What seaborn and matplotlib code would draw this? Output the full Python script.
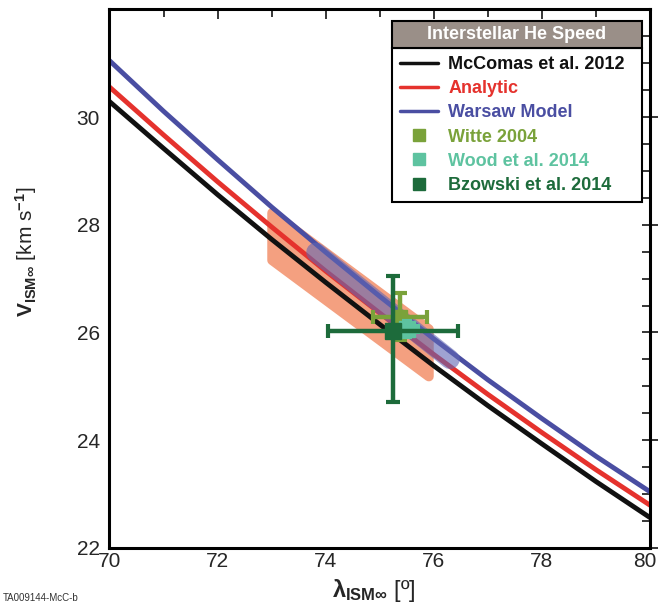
"""
Interstellar He speed vs. inflow longitude
"""

import numpy as np
import pandas as pd
import matplotlib
matplotlib.use('Agg')
import matplotlib.pyplot as plt
import matplotlib.transforms as mtransforms
import seaborn as sns
from matplotlib import font_manager
from matplotlib.lines import Line2D
from matplotlib.patches import Rectangle

# ---- data ----
lam = [70, 71, 72, 73, 74, 75, 76, 77, 78, 79, 80]
v_mccomas = [30.29, 29.42, 28.56, 27.73, 26.93, 26.15, 25.38, 24.64, 23.93, 23.23, 22.56]
v_analytic = [30.56, 29.67, 28.80, 27.96, 27.14, 26.36, 25.59, 24.85, 24.14, 23.45, 22.79]
v_warsaw = [31.05, 30.11, 29.21, 28.33, 27.49, 26.67, 25.88, 25.12, 24.40, 23.70, 23.04]

# IBEX parameter tube region (orange) and Warsaw model uncertainty (purple)
tube_lam = [73.0, 75.9]
tube_v = [27.79, 25.63]
tube_dv = 0.44
warsaw_lam = [73.82, 76.3]
warsaw_v = [27.49, 25.50]

# observations: lambda, V, lambda err, V err (low, high)
obs_names = ['Witte 2004', 'Wood et al. 2014', 'Bzowski et al. 2014']
obs_lam = [75.38, 75.50, 75.24]
obs_v = [26.29, 26.06, 26.03]
obs_lam_err = [0.5, 0.2, 1.2]
obs_v_err_lo = [0.44, 0.15, 1.32]
obs_v_err_hi = [0.44, 0.15, 1.02]
obs_colors = ['#7aa23a', '#5ec3a0', '#1d6b3b']

line_names = ['McComas et al. 2012', 'Analytic', 'Warsaw Model']
line_colors = ['#111111', '#e5322d', '#4a4ea2']

# ---- fonts ----
installed = {f.name for f in font_manager.fontManager.ttflist}
narrow = 'Liberation Sans Narrow' if 'Liberation Sans Narrow' in installed else 'Liberation Sans'

sns.set_style('white')
plt.rcParams['font.family'] = [narrow, 'DejaVu Sans']
plt.rcParams['mathtext.fontset'] = 'custom'
plt.rcParams['mathtext.rm'] = narrow
plt.rcParams['mathtext.bf'] = narrow + ':bold'
plt.rcParams['mathtext.it'] = narrow + ':italic'

df = pd.DataFrame({'lam': lam, 'McComas et al. 2012': v_mccomas,
                   'Analytic': v_analytic, 'Warsaw Model': v_warsaw})
long_df = df.melt(id_vars='lam', var_name='model', value_name='v')

fig = plt.figure(figsize=(6.58, 6.05), dpi=100)
ax = fig.add_axes([0.1664, 0.0947, 0.8214, 0.8896])

# orange tube with rounded corners
tl = np.array(tube_lam)
tv = np.array(tube_v)
ax.fill_between(tl, tv - tube_dv, tv + tube_dv, facecolor='#f4a080',
                edgecolor='#f4a080', linewidth=7, joinstyle='round', zorder=1)

sns.lineplot(data=long_df, x='lam', y='v', hue='model', hue_order=line_names,
             palette=line_colors, linewidth=3.5, legend=False, ax=ax, zorder=2)

# purple Warsaw band
ax.plot(warsaw_lam, warsaw_v, color='#6066b4', alpha=0.6, linewidth=14,
        solid_capstyle='round', zorder=3)

# observations (Bzowski first so others sit on top)
styles = {0: dict(ms=10, elinewidth=3.2, capsize=5),
          1: dict(ms=11, elinewidth=6, capsize=3.5),
          2: dict(ms=11, elinewidth=3.2, capsize=5)}
for i in [2, 0, 1]:
    ax.errorbar(obs_lam[i], obs_v[i], xerr=obs_lam_err[i],
                yerr=[[obs_v_err_lo[i]], [obs_v_err_hi[i]]],
                fmt='s', color=obs_colors[i], mec=obs_colors[i], capthick=3,
                zorder=4 + i, **styles[i])

ax.set_xlim(70, 80)
ax.set_ylim(22, 32)
ax.set_xticks(np.arange(70, 81, 2))
ax.set_xticks(np.arange(70, 81, 1), minor=True)
ax.set_yticks(np.arange(22, 31, 2))
ax.set_yticks(np.arange(22, 32.1, 0.5), minor=True)
ax.tick_params(axis='x', which='major', direction='in', length=7, width=1.3,
               labelsize=15, pad=3, top=True)
ax.tick_params(axis='x', which='minor', direction='in', length=6, width=1.3, top=True)
ax.tick_params(axis='y', which='major', direction='inout', length=12, width=1.3,
               labelsize=15, pad=1, right=True)
ax.tick_params(axis='y', which='minor', direction='in', length=6, width=1.3, right=True)
for s in ax.spines.values():
    s.set_linewidth(2.2)
    s.set_color('black')

# keep the last x label inside the figure
last = ax.get_xticklabels()[-1]
last.set_transform(last.get_transform() + mtransforms.ScaledTranslation(-5 / 100, 0, fig.dpi_scale_trans))

ax.set_xlabel(r'$\mathbf{\lambda}_{\mathbf{ISM\infty}}$ [º]', fontsize=17)
ax.set_ylabel(r'$\mathbf{V}_{\mathbf{ISM\infty}}$ [km s$^{\mathbf{-1}}$]', fontsize=15)
ax.xaxis.set_label_coords(0.49, -0.055)
ax.yaxis.set_label_coords(-0.13, 0.55)

# legend
handles = [Line2D([], [], color=c, lw=2.5, label=n) for n, c in zip(line_names, line_colors)]
handles += [Line2D([], [], color=c, marker='s', ms=8, ls='none', label=n)
            for n, c in zip(obs_names, obs_colors)]
leg = ax.legend(handles=handles, loc='upper left', bbox_to_anchor=(0.522, 0.929, 0.463, 0),
                mode='expand', borderaxespad=0, fancybox=False, framealpha=1,
                edgecolor='black', handlelength=2.1, handletextpad=0.6,
                labelspacing=0.4, borderpad=0.45, labelcolor='linecolor',
                prop={'family': [narrow, 'DejaVu Sans'], 'weight': 'bold', 'size': 13})
leg.get_frame().set_linewidth(1.5)
leg.set_zorder(10)

ax.add_patch(Rectangle((0.522, 0.929), 0.463, 0.05, transform=ax.transAxes,
                       facecolor='#9a8f88', edgecolor='black', lw=1.5, zorder=11,
                       clip_on=False))
ax.text(0.7535, 0.954, 'Interstellar He Speed', transform=ax.transAxes, color='white',
        fontsize=13, fontweight='bold', ha='center', va='center', zorder=12)

fig.text(0.005, 0.006, 'TA009144-McC-b', fontsize=7, color='#333333',
         family=['Liberation Sans', 'DejaVu Sans'])

plt.savefig('out.png', dpi=100)
plt.close()
